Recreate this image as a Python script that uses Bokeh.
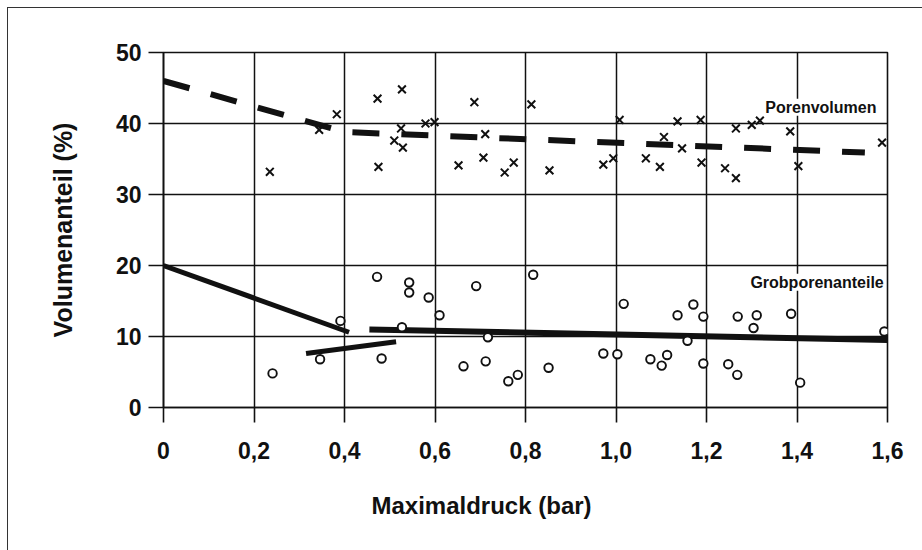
from bokeh.plotting import figure
from bokeh.models import Range1d, FixedTicker, CustomJSTickFormatter, Label, Title, InlineStyleSheet
from bokeh.embed import file_html
from bokeh.resources import INLINE

# ---- data ----
x_ticks = [0, 0.2, 0.4, 0.6, 0.8, 1.0, 1.2, 1.4, 1.6]
y_ticks = [0, 10, 20, 30, 40, 50]

# Porenvolumen (crosses)
poren_x = [0.235, 0.344, 0.383, 0.473, 0.475, 0.527, 0.525, 0.510, 0.529, 0.579, 0.599,
           0.687, 0.711, 0.652, 0.707, 0.754, 0.774, 0.813, 0.853, 1.008, 0.972, 0.994,
           1.066, 1.097, 1.106, 1.136, 1.146, 1.187, 1.189, 1.265, 1.241, 1.265, 1.300,
           1.318, 1.385, 1.403, 1.588]
poren_y = [33.2, 39.1, 41.3, 43.5, 33.9, 44.8, 39.3, 37.6, 36.6, 40.0, 40.2,
           43.0, 38.5, 34.1, 35.2, 33.1, 34.5, 42.7, 33.4, 40.5, 34.2, 35.1,
           35.1, 33.9, 38.1, 40.3, 36.5, 40.5, 34.5, 39.3, 33.7, 32.3, 39.8,
           40.4, 38.9, 34.0, 37.3]

# Grobporenanteile (circles)
grob_x = [0.241, 0.346, 0.391, 0.472, 0.482, 0.527, 0.543, 0.543, 0.586, 0.610, 0.691,
          0.717, 0.663, 0.712, 0.762, 0.783, 0.817, 0.851, 1.017, 0.972, 1.003, 1.076,
          1.101, 1.113, 1.136, 1.171, 1.158, 1.193, 1.193, 1.248, 1.268, 1.269, 1.311,
          1.304, 1.387, 1.407, 1.593]
grob_y = [4.8, 6.8, 12.2, 18.4, 6.9, 11.3, 17.6, 16.2, 15.5, 13.0, 17.1,
          9.9, 5.8, 6.5, 3.7, 4.6, 18.7, 5.6, 14.6, 7.6, 7.5, 6.8,
          5.9, 7.4, 13.0, 14.5, 9.4, 12.8, 6.2, 6.1, 4.6, 12.8, 13.0,
          11.2, 13.2, 3.5, 10.7]

# fitted curves
poren_line_x = [0.0, 0.40, 1.55]
poren_line_y = [46.0, 38.8, 35.9]

grob_seg1_x = [0.0, 0.41]
grob_seg1_y = [20.0, 10.6]
grob_seg2_x = [0.315, 0.514]
grob_seg2_y = [7.6, 9.25]
grob_seg3_x = [0.455, 1.60]
grob_seg3_y = [11.0, 9.5]

FONT = "Liberation Sans"
INK = "#111111"

frame_css = InlineStyleSheet(css="""
:host::after {
  content: '';
  position: absolute;
  left: 7px; top: 7px;
  width: 915px; height: 543px;
  border-left: 1.5px solid #333;
  border-top: 1.5px solid #333;
  box-sizing: border-box;
  pointer-events: none;
}
""")

p = figure(width=922, height=550, output_backend="svg", toolbar_location=None,
           x_range=Range1d(0, 1.6), y_range=Range1d(0, 50),
           min_border_left=163, min_border_right=35, min_border_top=52, min_border_bottom=143,
           stylesheets=[frame_css])
p.background_fill_color = "white"
p.border_fill_color = "white"
p.outline_line_color = INK
p.outline_line_width = 1.6

# axes
p.xaxis.ticker = FixedTicker(ticks=x_ticks)
p.yaxis.ticker = FixedTicker(ticks=y_ticks)
p.xaxis.formatter = CustomJSTickFormatter(code="return tick == 0 ? '0' : tick.toFixed(1).replace('.', ',');")
for ax in (p.xaxis[0], p.yaxis[0]):
    ax.major_tick_out = 15
    ax.major_tick_in = 0
    ax.minor_tick_out = 0
    ax.minor_tick_in = 0
    ax.major_tick_line_color = INK
    ax.major_tick_line_width = 1.6
    ax.axis_line_color = INK
    ax.axis_line_width = 1.6
    ax.major_label_text_font = FONT
    ax.major_label_text_font_style = "bold"
    ax.major_label_text_font_size = "23px"
    ax.major_label_text_color = INK
p.xaxis.major_label_standoff = 19
p.yaxis.major_label_standoff = 7

p.yaxis.axis_label = "Volumenanteil (%)"
p.yaxis.axis_label_text_font = FONT
p.yaxis.axis_label_text_font_style = "bold"
p.yaxis.axis_label_text_font_size = "25px"
p.yaxis.axis_label_text_color = INK
p.yaxis.axis_label_standoff = 36

# grid
p.xgrid.ticker = FixedTicker(ticks=x_ticks)
p.ygrid.ticker = FixedTicker(ticks=y_ticks)
for g in (p.xgrid[0], p.ygrid[0]):
    g.grid_line_color = INK
    g.grid_line_width = 1.5
    g.grid_line_alpha = 1.0

# curves
p.line(poren_line_x, poren_line_y, line_color=INK, line_width=6, line_dash="27 22", line_cap="butt")
p.line(grob_seg1_x, grob_seg1_y, line_color=INK, line_width=5, line_cap="butt")
p.line(grob_seg2_x, grob_seg2_y, line_color=INK, line_width=5, line_cap="butt")
p.line(grob_seg3_x, grob_seg3_y, line_color=INK, line_width=6, line_cap="butt")

# points
p.scatter(poren_x, poren_y, marker="x", size=11, line_color=INK, line_width=2)
p.scatter(grob_x, grob_y, marker="circle", size=8.5, fill_color="white", line_color=INK, line_width=1.9)

# series labels
p.add_layout(Label(x=1.330, y=42.3, text="Porenvolumen", text_baseline="middle",
                   text_font=FONT, text_font_style="bold", text_font_size="16px",
                   text_color=INK, background_fill_color="white"))
p.add_layout(Label(x=1.297, y=17.65, text="Grobporenanteile", text_baseline="middle",
                   text_font=FONT, text_font_style="bold", text_font_size="16px",
                   text_color=INK, background_fill_color="white"))

# x axis title (a little left of centre, as in the reference)
p.add_layout(Title(text="Maximaldruck (bar)", align="left", offset=208, standoff=56,
                   text_line_height=0.6,
                   text_font=FONT, text_font_style="bold", text_font_size="24px",
                   text_color=INK), "below")

open("out.html", "w").write(file_html(p, INLINE))
